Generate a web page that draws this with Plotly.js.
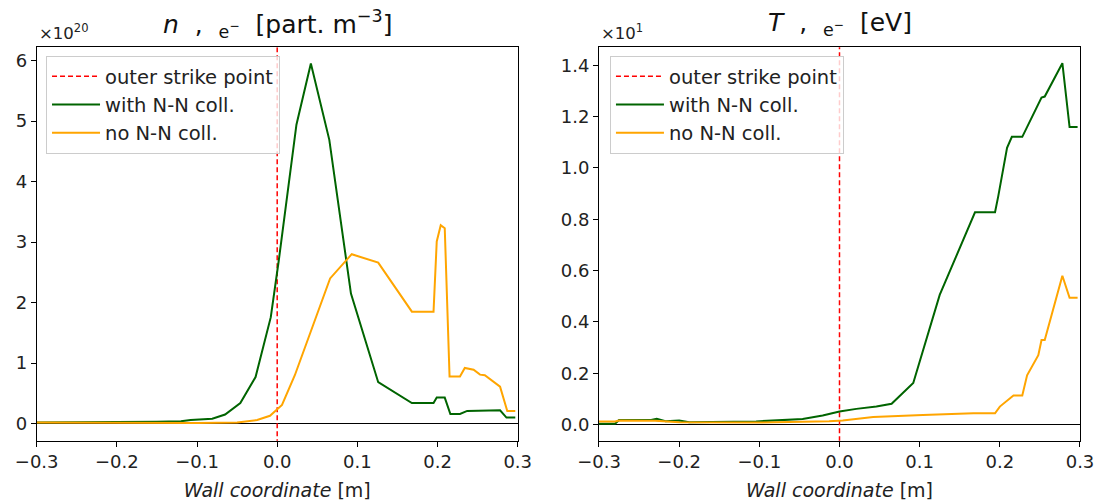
<!DOCTYPE html>
<html>
<head>
<meta charset="utf-8">
<script src="https://cdn.plot.ly/plotly-3.0.1.min.js"></script>
<style>html,body{margin:0;padding:0;background:#fff;}#chart{width:1101px;height:504px;}</style>
</head>
<body>
<div id="chart"></div>
<script>
// ---- data ----
const strikeX = [0, 0];
const strikeYn = [-1, 7];
const strikeYT = [-1, 2];

const nWithX = [-0.3, -0.25, -0.2, -0.15, -0.12, -0.108, -0.081, -0.065, -0.046, -0.027, -0.008, 0.002, 0.024, 0.042, 0.065, 0.092, 0.126, 0.168, 0.195, 0.199, 0.209, 0.216, 0.228, 0.237, 0.278, 0.286, 0.297];
const nWithY = [0.02, 0.02, 0.03, 0.03, 0.04, 0.06, 0.08, 0.15, 0.34, 0.77, 1.76, 2.70, 4.94, 5.95, 4.69, 2.15, 0.685, 0.34, 0.34, 0.43, 0.43, 0.16, 0.16, 0.21, 0.22, 0.10, 0.10];

const nNoX = [-0.3, -0.2, -0.1, -0.05, -0.025, -0.009, 0.006, 0.022, 0.045, 0.066, 0.093, 0.126, 0.168, 0.195, 0.199, 0.204, 0.209, 0.215, 0.228, 0.234, 0.245, 0.253, 0.259, 0.266, 0.278, 0.287, 0.297];
const nNoY = [0.02, 0.01, 0.01, 0.02, 0.06, 0.13, 0.31, 0.80, 1.65, 2.40, 2.80, 2.66, 1.85, 1.85, 3.01, 3.28, 3.23, 0.78, 0.78, 0.92, 0.89, 0.81, 0.80, 0.73, 0.61, 0.21, 0.21];

const tWithX = [-0.3, -0.28, -0.275, -0.235, -0.228, -0.217, -0.2, -0.1875, -0.104, -0.046, -0.021, 0.0, 0.021, 0.046, 0.065, 0.092, 0.125, 0.169, 0.194, 0.198, 0.209, 0.215, 0.228, 0.252, 0.256, 0.278, 0.287, 0.297];
const tWithY = [0.003, 0.003, 0.018, 0.018, 0.022, 0.013, 0.016, 0.009, 0.012, 0.022, 0.035, 0.051, 0.061, 0.070, 0.081, 0.162, 0.505, 0.827, 0.827, 0.889, 1.078, 1.121, 1.121, 1.274, 1.278, 1.408, 1.159, 1.159];

const tNoX = [-0.3, -0.28, -0.275, -0.23, -0.2, -0.1, -0.013, 0.004, 0.042, 0.065, 0.104, 0.167, 0.194, 0.2, 0.208, 0.217, 0.228, 0.234, 0.248, 0.252, 0.256, 0.278, 0.287, 0.297];
const tNoY = [0.012, 0.012, 0.016, 0.015, 0.009, 0.008, 0.013, 0.016, 0.029, 0.033, 0.037, 0.044, 0.044, 0.07, 0.09, 0.113, 0.113, 0.192, 0.27, 0.329, 0.329, 0.58, 0.494, 0.494];

const xTicks = [-0.3, -0.2, -0.1, 0.0, 0.1, 0.2, 0.3];
const nTicks = [0, 1, 2, 3, 4, 5, 6];
const tTicks = [0.0, 0.2, 0.4, 0.6, 0.8, 1.0, 1.2, 1.4];

const names = ['outer strike point', 'with N-N coll.', 'no N-N coll.'];
const RED = '#ff0000', GREEN = '#006400', ORANGE = '#ffa500';
const FONT = 'DejaVu Sans, sans-serif';

const traces = [
  {x: strikeX, y: strikeYn, xaxis: 'x', yaxis: 'y', mode: 'lines', name: names[0], legend: 'legend',
   line: {color: RED, width: 1.5, dash: '5px,3px'}},
  {x: nWithX, y: nWithY, xaxis: 'x', yaxis: 'y', mode: 'lines', name: names[1], legend: 'legend',
   line: {color: GREEN, width: 2}},
  {x: nNoX, y: nNoY, xaxis: 'x', yaxis: 'y', mode: 'lines', name: names[2], legend: 'legend',
   line: {color: ORANGE, width: 2}},
  {x: strikeX, y: strikeYT, xaxis: 'x2', yaxis: 'y2', mode: 'lines', name: names[0], legend: 'legend2',
   line: {color: RED, width: 1.5, dash: '5px,3px'}},
  {x: tWithX, y: tWithY, xaxis: 'x2', yaxis: 'y2', mode: 'lines', name: names[1], legend: 'legend2',
   line: {color: GREEN, width: 2}},
  {x: tNoX, y: tNoY, xaxis: 'x2', yaxis: 'y2', mode: 'lines', name: names[2], legend: 'legend2',
   line: {color: ORANGE, width: 2}}
];

const axBase = {
  showline: true, mirror: true, linecolor: '#000', linewidth: 1,
  ticks: 'outside', ticklen: 5, tickwidth: 1, tickcolor: '#000',
  showgrid: false, tickfont: {family: FONT, size: 18, color: '#222'},
  fixedrange: true
};

const xTitle = {text: '<i>Wall coordinate</i> [m]', font: {family: FONT, size: 19, color: '#222'}, standoff: 12};

const legBase = {
  bgcolor: 'rgba(255,255,255,0.8)', bordercolor: '#cccccc', borderwidth: 1,
  font: {family: FONT, size: 19.5, color: '#222'}, xanchor: 'left', yanchor: 'top',
  itemwidth: 48, tracegroupgap: 0
};

const layout = {
  width: 1101, height: 504,
  margin: {l: 0, r: 0, t: 0, b: 0},
  paper_bgcolor: '#fff', plot_bgcolor: '#fff',
  showlegend: true,
  xaxis: Object.assign({}, axBase, {domain: [0.03333, 0.47021], range: [-0.3, 0.3], tickvals: xTicks, tickformat: '.1f', zeroline: false, anchor: 'y', title: xTitle}),
  yaxis: Object.assign({}, axBase, {domain: [0.1256, 0.90615], range: [-0.282, 6.219], tickvals: nTicks, tickformat: 'd', zeroline: true, zerolinecolor: '#000', zerolinewidth: 1, anchor: 'x'}),
  xaxis2: Object.assign({}, axBase, {domain: [0.54405, 0.98093], range: [-0.3, 0.3], tickvals: xTicks, tickformat: '.1f', zeroline: false, anchor: 'y2', title: xTitle}),
  yaxis2: Object.assign({}, axBase, {domain: [0.1256, 0.90615], range: [-0.063, 1.470], tickvals: tTicks, tickformat: '.1f', zeroline: true, zerolinecolor: '#000', zerolinewidth: 1, anchor: 'x2'}),
  legend: Object.assign({}, legBase, {x: 0.0418, y: 0.8889}),
  legend2: Object.assign({}, legBase, {x: 0.554, y: 0.8889}),
  annotations: [
    {xref: 'paper', yref: 'paper', x: 0.2516, y: 0.952, xanchor: 'center', yanchor: 'middle', showarrow: false,
     text: '<i>n</i>  ,  <sub>e<sup>−</sup></sub>  [part. m<sup>−3</sup>]', font: {family: FONT, size: 25, color: '#111'}},
    {xref: 'paper', yref: 'paper', x: 0.7625, y: 0.952, xanchor: 'center', yanchor: 'middle', showarrow: false,
     text: '<i>T</i>  ,  <sub>e<sup>−</sup></sub>  [eV]', font: {family: FONT, size: 25, color: '#111'}},
    {xref: 'paper', yref: 'paper', x: 0.0336, y: 0.9365, xanchor: 'left', yanchor: 'middle', showarrow: false,
     text: '×10<sup>20</sup>', font: {family: FONT, size: 16.5, color: '#222'}},
    {xref: 'paper', yref: 'paper', x: 0.5445, y: 0.9365, xanchor: 'left', yanchor: 'middle', showarrow: false,
     text: '×10<sup>1</sup>', font: {family: FONT, size: 16.5, color: '#222'}}
  ]
};

Plotly.newPlot('chart', traces, layout, {displayModeBar: false, staticPlot: true});
</script>
</body>
</html>
